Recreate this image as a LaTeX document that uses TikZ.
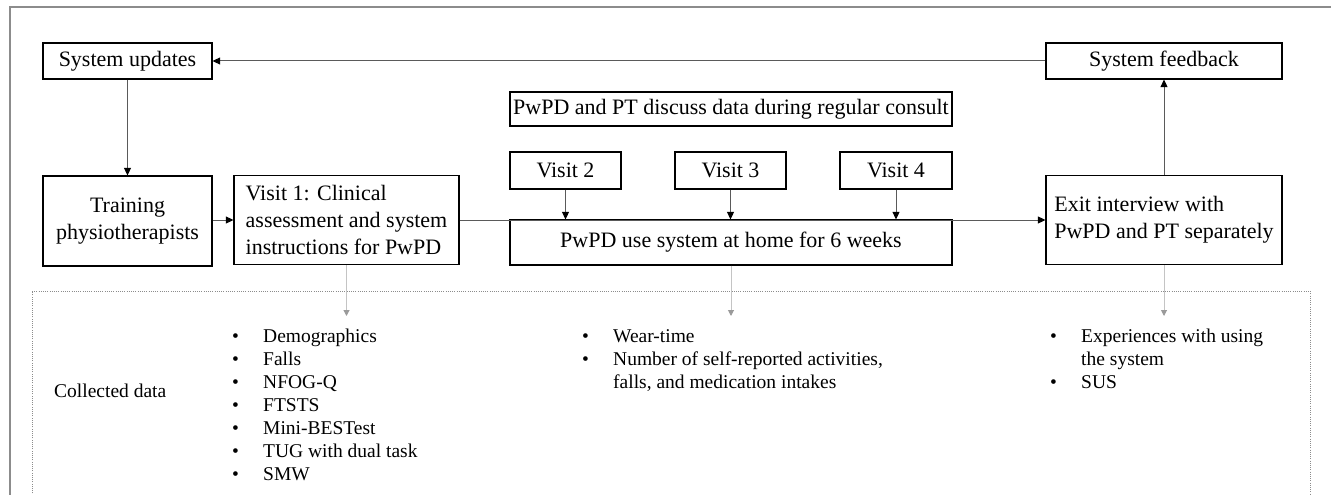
\documentclass[tikz,border=0pt]{standalone}
\usepackage{fontspec}
\setmainfont{Liberation Serif}
\usetikzlibrary{arrows.meta}
\definecolor{framegray}{HTML}{8C8C8C}
\definecolor{linkgray}{HTML}{5A5A5A}
\definecolor{datagray}{HTML}{C4C4C4}
\definecolor{dataheadgray}{HTML}{9A9A9A}
\tikzset{
  stepbox/.style={draw=black, line width=1.2pt, inner sep=0pt, align=center,
    font=\fontsize{22}{27}\selectfont},
  link/.style={draw=linkgray, line width=1pt, -{Triangle[length=7.5pt,width=7pt,color=black]}},
  datalink/.style={draw=datagray, line width=1pt, -{Triangle[length=6pt,width=6pt,color=dataheadgray]}},
  listtext/.style={inner sep=0pt, align=left, anchor=north west,
    font=\fontsize{19.5}{23}\selectfont},
}
\newcommand{\itm}{\makebox[31pt][l]{•}}
\newcommand{\cont}{\hspace*{31pt}}
\begin{document}
\begin{tikzpicture}[x=1pt,y=-1pt]
\useasboundingbox (0,0) rectangle (1331,495);

% outer frame (only top and left edges fall inside the page)
\draw[framegray, line width=1.5pt] (10,500) -- (10,7) -- (1340,7);

% dotted frame around the collected data
\draw[framegray, line width=0.8pt, dash pattern=on 1pt off 1.2pt]
  (32,500) -- (32,291) -- (1310,291) -- (1310,500);

% process boxes
\node[stepbox, minimum width=169pt, minimum height=36pt] (upd) at (127.5,61) {System updates};
\node[stepbox, minimum width=236pt, minimum height=36pt] (fb) at (1164,61) {System feedback};
\node[stepbox, minimum width=169pt, minimum height=90pt] (train) at (127.5,221) {Training\\physiotherapists};
\node[stepbox, minimum width=225pt, minimum height=89pt, align=left] (v1) at (346.5,220)
  {Visit 1: Clinical\\assessment and system\\instructions for PwPD};
\node[stepbox, minimum width=442pt, minimum height=34pt] (disc) at (731,109)
  {PwPD and PT discuss data during regular consult};
\node[stepbox, minimum width=111pt, minimum height=37pt] (v2) at (565.5,170.5) {Visit 2};
\node[stepbox, minimum width=111pt, minimum height=37pt] (v3) at (730.5,170.5) {Visit 3};
\node[stepbox, minimum width=112pt, minimum height=37pt] (v4) at (896,170.5) {Visit 4};
\node[stepbox, minimum width=442pt, minimum height=45pt] (use) at (731,242.5)
  {PwPD use system at home for 6 weeks};
\node[stepbox, minimum width=236pt, minimum height=89pt, align=left] (ex) at (1164,220)
  {Exit interview with\\PwPD and PT separately};

% process flow
\draw[link] (fb.west) -- (upd.east);
\draw[link] (upd.south) -- (train.north);
\draw[link] (train.east |- v1.west) -- (v1.west);
\draw[link] (v1.east) -- (ex.west);
\draw[link] (v2.south) -- (v2.south |- use.north);
\draw[link] (v3.south) -- (v3.south |- use.north);
\draw[link] (v4.south) -- (v4.south |- use.north);
\draw[link] (ex.north) -- (fb.south);

% collected data
\coordinate (d1) at (346.5,316);
\coordinate (d2) at (731,316);
\coordinate (d3) at (1164,316);
\draw[datalink] (v1.south) -- (d1);
\draw[datalink] (use.south) -- (d2);
\draw[datalink] (ex.south) -- (d3);

\node[inner sep=0pt, anchor=base west, font=\fontsize{19.5}{23}\selectfont] (cd) at (54,397) {Collected data};

\node[listtext] (l1) at (232,326.5) {\strut\itm Demographics\\\itm Falls\\\itm NFOG-Q\\\itm FTSTS\\\itm Mini-BESTest\\\itm TUG with dual task\\\itm SMW};
\node[listtext] (l2) at (582,326.5) {\strut\itm Wear-time\\\itm Number of self-reported activities,\\\cont falls, and medication intakes};
\node[listtext] (l3) at (1050,326.5) {\strut\itm Experiences with using\\\cont the system\\\itm SUS};
\end{tikzpicture}
\end{document}
